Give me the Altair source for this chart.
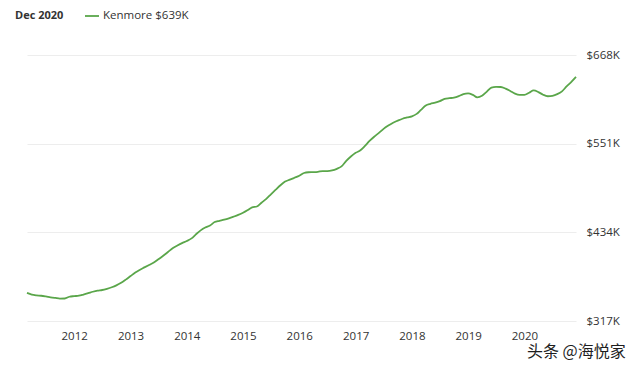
import altair as alt
import pandas as pd

# Kenmore typical home value, monthly, Mar 2011 - Dec 2020 (in $K)
values = [354.1, 351.8, 350.8, 350.3, 349.4, 348.3, 347.4, 346.6, 346.7, 349.0,
          349.8, 350.4, 351.9, 353.7, 355.6, 357.1, 357.9, 359.5, 361.5, 364.0, 367.4, 371.6,
          376.3, 381.0, 384.4, 387.7, 390.9, 394.2, 398.5, 403.2, 408.1, 412.9, 416.6, 419.8,
          422.5, 426.0, 431.3, 436.6, 440.4, 443.0, 447.6, 449.2, 450.7, 452.5, 454.7, 457.0,
          459.8, 463.4, 467.0, 468.1, 473.1, 478.2, 484.2, 490.3, 496.2, 501.0, 503.5, 506.0,
          508.6, 512.3, 513.3, 513.5, 513.9, 514.8, 514.8, 515.6, 517.8, 521.0, 528.2, 534.0,
          538.9, 542.3, 547.7, 554.6, 560.2, 565.2, 570.5, 574.9, 578.7, 581.4, 583.9, 585.6,
          587.1, 590.3, 595.6, 601.4, 603.6, 605.1, 607.1, 610.0, 611.0, 611.7, 613.7, 616.5,
          617.4, 615.3, 612.1, 614.1, 619.4, 625.0, 626.0, 625.8, 623.7, 620.6, 617.0, 615.3,
          615.4, 618.2, 621.2, 619.1, 615.6, 613.6, 614.2, 616.3, 620.0, 626.6, 632.5, 639.0]
months = pd.date_range("2011-03-01", periods=len(values), freq="MS").strftime("%Y-%m-%d").tolist()

y_ticks = [317, 434, 551, 668]
x_tick_years = list(range(2012, 2021))
header_text = ["Dec 2020"]
legend_text = ["Kenmore $639K"]
watermark_text = ["头条 @海悦家"]

GREEN = "#5aa64a"
TEXT = "#333333"

df = pd.DataFrame({"date": months, "value": values})

line = alt.Chart(df).mark_line(color=GREEN, strokeWidth=1.8, interpolate="monotone").encode(
    x=alt.X("date:T", title=None,
            scale=alt.Scale(nice=False),
            axis=alt.Axis(values=[alt.DateTime(year=yr, month=1, date=1) for yr in x_tick_years],
                          format="%Y", grid=False, ticks=False, domain=False,
                          labelPadding=9, labelFontSize=11.5, labelColor=TEXT)),
    y=alt.Y("value:Q", title=None,
            scale=alt.Scale(domain=[317, 668], nice=False, zero=False),
            axis=alt.Axis(orient="right", values=y_ticks, labelExpr="'$' + datum.value + 'K'",
                          grid=True, gridColor="#ededed", ticks=False, domain=False,
                          labelPadding=10, labelFontSize=11.5, labelColor=TEXT)),
)

header = alt.Chart(pd.DataFrame({"t": header_text})).mark_text(
    align="left", baseline="middle", fontSize=11, fontWeight="bold", color=TEXT
).encode(text="t:N", x=alt.value(-12), y=alt.value(-39))

legend_rule = alt.Chart(pd.DataFrame({"t": legend_text})).mark_rule(
    color=GREEN, strokeWidth=1.8
).encode(x=alt.value(58), x2=alt.value(72), y=alt.value(-39))

legend_label = alt.Chart(pd.DataFrame({"t": legend_text})).mark_text(
    align="left", baseline="middle", fontSize=11.5, color=TEXT
).encode(text="t:N", x=alt.value(76), y=alt.value(-39))

watermark = alt.Chart(pd.DataFrame({"t": watermark_text})).mark_text(
    align="left", baseline="middle", fontSize=16, color="#1e1e1e",
    font="Noto Sans CJK SC"
).encode(text="t:N", x=alt.value(500), y=alt.value(297))

chart = alt.layer(line, header, legend_rule, legend_label, watermark).properties(
    width=549, height=266,
    autosize=alt.AutoSizeParams(type="none"),
    padding={"left": 19, "top": 47, "right": 56, "bottom": 40},
).configure(font="Open Sans").configure_view(stroke=None)

chart.save("out.html", embed_options={"renderer": "svg", "actions": False})
